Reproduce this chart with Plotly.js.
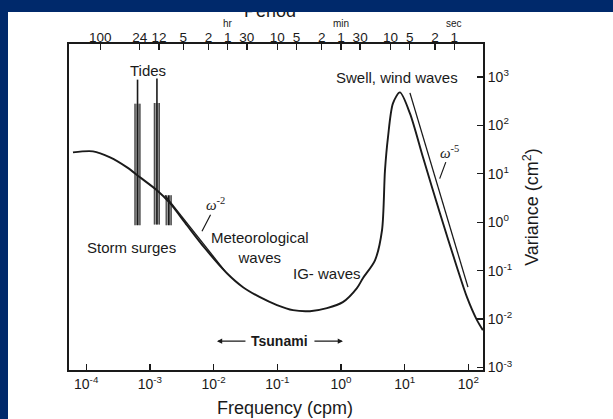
<!DOCTYPE html>
<html><head><meta charset="utf-8">
<script src="https://cdn.plot.ly/plotly-3.0.1.min.js"></script>
<style>
html,body{margin:0;padding:0;background:#00296b;width:613px;height:419px;overflow:hidden}
#panel{position:absolute;left:8px;top:12px;width:605px;height:407px;background:#fff;overflow:hidden}
#chart{position:absolute;left:-8px;top:-12px;width:613px;height:419px}
</style></head><body>
<div id="panel"><div id="chart"></div></div>
<script>
// Main spectrum (frequency in cpm, variance in cm^2)
const freq = [6.2e-5, 1.28e-4, 2.37e-4, 4.38e-4, 7.0e-4, 1.29e-3, 2.07e-3, 3.82e-3, 7.3e-3, 1.62e-2, 2.9e-2, 5.35e-2, 9.9e-2, 0.176, 0.326, 0.603, 1.07, 1.78, 2.21, 3.42, 4.41, 4.91, 5.47, 6.55, 8.43, 12.1, 19.4, 35.8, 66.2, 95.1, 136.5, 169];
const variance = [27.7, 29.1, 21.9, 13.6, 8.47, 4.57, 2.47, 0.867, 0.291, 0.0887, 0.0457, 0.0284, 0.0195, 0.0153, 0.0146, 0.0169, 0.0224, 0.0436, 0.070, 0.164, 0.684, 11.8, 56.6, 285, 479, 177, 21.9, 1.53, 0.118, 0.0284, 0.00953, 0.00593];

// omega^-2 and omega^-5 reference lines
const w2Freq = [1.73e-3, 1.51e-2];
const w2Var = [3.6, 0.098];
const w5Freq = [12.1, 98.6];
const w5Var = [470, 0.0457];

// Tidal spikes
const tideFreq = [6.4e-4, 1.29e-3, 1.98e-3];
const tidePeak = [880, 930, 3.6];
const tideBand = [280, 290, 3.6];
const tideBase = [0.87, 0.9, 0.87];

// Axis ticks
const xTickVals = [1e-4, 1e-3, 1e-2, 1e-1, 1, 10, 100];
const xTickText = ['10<sup>-4</sup>', '10<sup>-3</sup>', '10<sup>-2</sup>', '10<sup>-1</sup>', '10<sup>0</sup>', '10<sup>1</sup>', '10<sup>2</sup>'];
const yTickVals = [1e-3, 1e-2, 1e-1, 1, 10, 100, 1000];
const yTickText = ['10<sup>-3</sup>', '10<sup>-2</sup>', '10<sup>-1</sup>', '10<sup>0</sup>', '10<sup>1</sup>', '10<sup>2</sup>', '10<sup>3</sup>'];
const periodFreq = [1/6000, 1/1440, 1/720, 1/300, 1/120, 1/60, 1/30, 0.1, 0.2, 0.5, 1, 2, 6, 12, 30, 60];
const periodText = ['100', '24', '12', '5', '2', '1', '30', '10', '5', '2', '1', '30', '10', '5', '2', '1'];
const unitFreq = [1/60, 1, 60];
const unitText = ['hr', 'min', 'sec'];

const FONT = 'Liberation Sans, Arial, Helvetica, sans-serif';
const INK = '#1a1a1a';
const lg = Math.log10;

const traces = [];
// tides
tideFreq.forEach((f, i) => {
  traces.push({x: [f, f], y: [tideBase[i], tideBand[i]], mode: 'lines', line: {color: '#9a9a9a', width: 6}, hoverinfo: 'skip', showlegend: false});
  [0.91, 1.09].forEach(k => traces.push({x: [f * k, f * k], y: [tideBase[i], tideBand[i]], mode: 'lines', line: {color: '#444', width: 1.1}, hoverinfo: 'skip', showlegend: false}));
  traces.push({x: [f, f], y: [tideBase[i], tidePeak[i]], mode: 'lines', line: {color: INK, width: 1.6}, hoverinfo: 'skip', showlegend: false});
});
traces.push({x: w2Freq, y: w2Var, mode: 'lines', line: {color: INK, width: 1.3}, showlegend: false});
traces.push({x: w5Freq, y: w5Var, mode: 'lines', line: {color: INK, width: 1.3}, showlegend: false});
traces.push({x: freq, y: variance, mode: 'lines', line: {color: INK, width: 1.9, shape: 'spline', smoothing: 0.8}, showlegend: false});
// dummy for top axis
traces.push({x: [freq[0]], y: [variance[0]], xaxis: 'x2', mode: 'markers', marker: {opacity: 0}, hoverinfo: 'skip', showlegend: false});

const txt = (t, x, y, size, extra) => Object.assign({text: t, x: x, y: y, xref: 'x', yref: 'y', showarrow: false, font: {family: FONT, size: size, color: INK}}, extra || {});

const annotations = [
  txt('Tides', -3.03, 3.13, 15),
  txt('Swell, wind waves', 0.879, 2.99, 15),
  txt('Storm surges', -3.281, -0.515, 15),
  txt('Meteorological<br>waves', -1.27, -0.515, 15, {}),
  txt('IG- waves', -0.22, -1.052, 15),
  txt('Tsunami', -0.958, -2.454, 14, {font: {family: FONT, size: 14, color: INK, weight: 'bold'}}),
  {x: -1.947, y: -2.454, xref: 'x', yref: 'y', text: '', showarrow: true, ax: 30, ay: 0, arrowhead: 2, arrowsize: 0.8, arrowwidth: 1.3, arrowcolor: INK},
  {x: 0.031, y: -2.454, xref: 'x', yref: 'y', text: '', showarrow: true, ax: -30, ay: 0, arrowhead: 2, arrowsize: 0.8, arrowwidth: 1.3, arrowcolor: INK},
  {x: -2.182, y: -0.186, xref: 'x', yref: 'y', text: '<i>ω</i><sup>-2</sup>', showarrow: true, ax: 14, ay: -27, arrowhead: 0, arrowwidth: 1.2, arrowcolor: INK, font: {family: 'Liberation Serif, serif', size: 15, color: INK}},
  {x: 1.55, y: 0.9, xref: 'x', yref: 'y', text: '<i>ω</i><sup>-5</sup>', showarrow: true, ax: 10, ay: -27, arrowhead: 0, arrowwidth: 1.2, arrowcolor: INK, font: {family: 'Liberation Serif, serif', size: 15, color: INK}},
  {text: 'Period', x: -1.115, y: 1, xref: 'x', yref: 'paper', yanchor: 'middle', yshift: 33, showarrow: false, font: {family: FONT, size: 18, color: INK}},
  {text: 'Frequency (cpm)', x: 0.5, y: 0, xref: 'paper', yref: 'paper', xshift: 9, yshift: -38, yanchor: 'middle', showarrow: false, font: {family: FONT, size: 18, color: INK}}
];
unitFreq.forEach((f, i) => annotations.push({text: unitText[i], x: lg(f), y: 1, xref: 'x', yref: 'paper', yanchor: 'middle', yshift: 21, showarrow: false, font: {family: FONT, size: 10, color: INK}}));

const layout = {
  width: 613, height: 419,
  margin: {l: 69, r: 130, t: 44, b: 49},
  paper_bgcolor: 'rgba(0,0,0,0)', plot_bgcolor: 'rgba(0,0,0,0)',
  showlegend: false,
  font: {family: FONT, color: INK},
  xaxis: {type: 'log', range: [-4.27, 2.23], tickvals: xTickVals, ticktext: xTickText, ticks: 'inside', ticklen: 6, tickwidth: 1.3, tickcolor: INK,
    showline: true, linecolor: INK, linewidth: 2, mirror: true, showgrid: false, zeroline: false,
    tickfont: {family: FONT, size: 14, color: INK}},
  xaxis2: {type: 'log', range: [-4.27, 2.23], overlaying: 'x', side: 'top', tickvals: periodFreq, ticktext: periodText, ticks: 'inside', ticklen: 6, tickwidth: 1.3, tickcolor: INK,
    ticklabelstandoff: -2,
    showline: false, showgrid: false, zeroline: false, tickfont: {family: FONT, size: 13.5, color: INK}},
  yaxis: {type: 'log', side: 'right', range: [-3.05, 3.68], tickvals: yTickVals, ticktext: yTickText, ticks: 'inside', ticklen: 6, tickwidth: 1.3, tickcolor: INK,
    showline: true, linecolor: INK, linewidth: 2, mirror: true, showgrid: false, zeroline: false,
    tickfont: {family: FONT, size: 14, color: INK},
    title: {text: 'Variance (cm<sup>2</sup>)', font: {family: FONT, size: 18, color: INK}, standoff: 14}},
  annotations: annotations
};

Plotly.newPlot('chart', traces, layout, {displayModeBar: false, staticPlot: true});
</script>
</body></html>
